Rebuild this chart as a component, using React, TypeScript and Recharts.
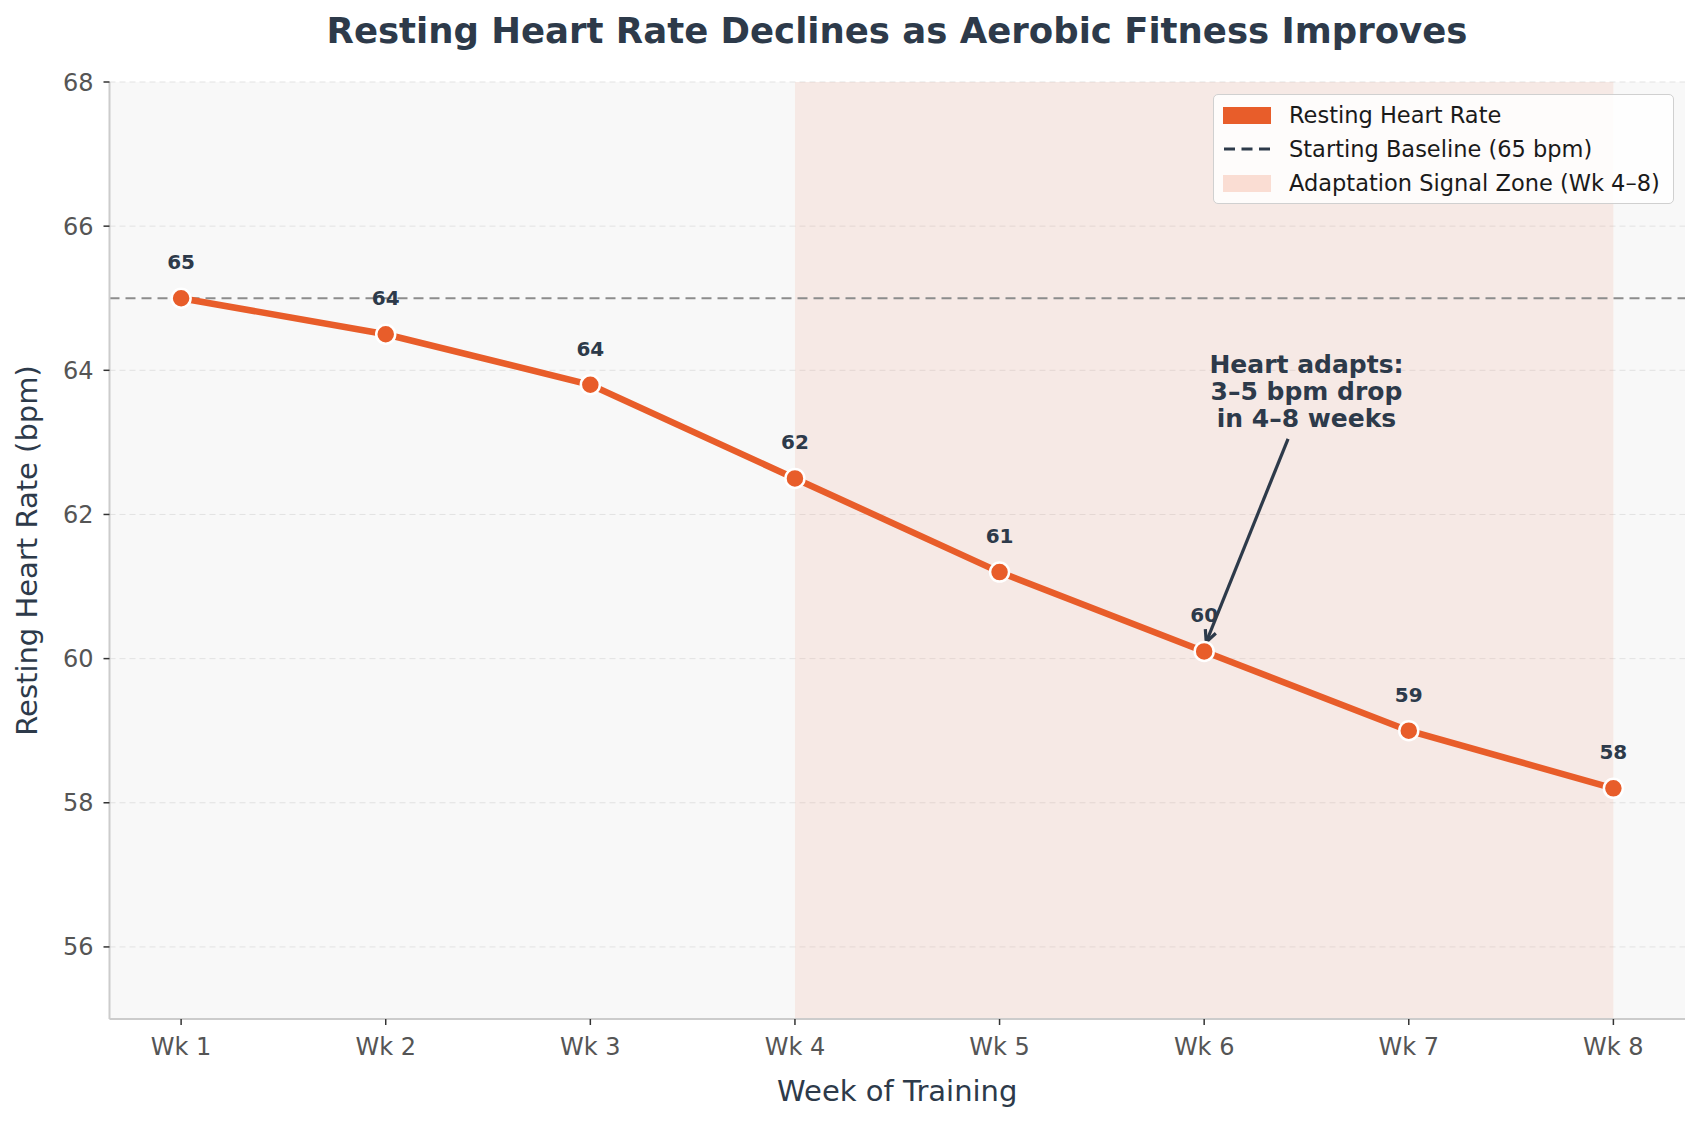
import React from "react";
import {
  ComposedChart,
  Line,
  XAxis,
  YAxis,
  CartesianGrid,
  ReferenceArea,
  ReferenceLine,
  ReferenceDot,
  LabelList,
} from "recharts";

const weeks = [1, 2, 3, 4, 5, 6, 7, 8];
const weekLabels = ["Wk 1", "Wk 2", "Wk 3", "Wk 4", "Wk 5", "Wk 6", "Wk 7", "Wk 8"];
const restingHr = [65, 64.5, 63.8, 62.5, 61.2, 60.1, 59.0, 58.2];
const pointLabels = ["65", "64", "64", "62", "61", "60", "59", "58"];
const yTicks = [56, 58, 60, 62, 64, 66, 68];
const baseline = 65;
const zoneStart = 4;
const zoneEnd = 8;
const annotationLines = ["Heart adapts:", "3\u20135 bpm drop", "in 4\u20138 weeks"];
const annotationText = { x: 6.5, y: 63.7 };
const arrowFrom = { x: 6.41, y: 63.05 };
const arrowTo = { x: 6.01, y: 60.23 };

const data = weeks.map((w, i) => ({ week: w, hr: restingHr[i], label: pointLabels[i] }));

const FONT = "'DejaVu Sans', sans-serif";
const ORANGE = "#E85D2A";
const DARK = "#2D3A4A";
const W = 1699;
const H = 1122;

const PointLabel = (props: any) => {
  const { x, y, index } = props;
  return (
    <text
      x={x}
      y={y - 36}
      textAnchor="middle"
      dominantBaseline="central"
      fontFamily={FONT}
      fontWeight="bold"
      fontSize={20}
      fill={DARK}
    >
      {pointLabels[index]}
    </text>
  );
};

const ArrowShape = (props: any) => {
  const { x1, y1, x2, y2 } = props;
  const ang = Math.atan2(y2 - y1, x2 - x1);
  const len = 13;
  const spread = 0.45;
  const ax = x2 - len * Math.cos(ang - spread);
  const ay = y2 - len * Math.sin(ang - spread);
  const bx = x2 - len * Math.cos(ang + spread);
  const by = y2 - len * Math.sin(ang + spread);
  return (
    <g>
      <line x1={x1} y1={y1} x2={x2} y2={y2} stroke={DARK} strokeWidth={3.2} />
      <polyline
        points={`${ax},${ay} ${x2},${y2} ${bx},${by}`}
        fill="none"
        stroke={DARK}
        strokeWidth={3.2}
      />
    </g>
  );
};

const AnnotationShape = (props: any) => {
  const { cx, cy } = props;
  return (
    <text
      x={cx}
      y={cy}
      textAnchor="middle"
      fontFamily={FONT}
      fontWeight="bold"
      fontSize={25}
      fill={DARK}
    >
      {annotationLines.map((l, i) => (
        <tspan key={i} x={cx} y={cy + (i - 1) * 27} dominantBaseline="central">
          {l}
        </tspan>
      ))}
    </text>
  );
};

const legendItems = [
  { kind: "patch", color: ORANGE, text: "Resting Heart Rate" },
  { kind: "dash", color: DARK, text: "Starting Baseline (65 bpm)" },
  { kind: "patch", color: "#FADDD3", text: "Adaptation Signal Zone (Wk 4\u20138)" },
];

export default function App() {
  return (
    <div
      style={{
        position: "absolute",
        left: 0,
        top: 0,
        width: W,
        height: H,
        background: "#ffffff",
        fontFamily: FONT,
      }}
    >
      <div
        style={{
          position: "absolute",
          left: 109,
          width: 1685 - 109,
          top: 10,
          textAlign: "center",
          fontSize: 35.5,
          fontWeight: "bold",
          color: DARK,
          lineHeight: "42px",
        }}
      >
        Resting Heart Rate Declines as Aerobic Fitness Improves
      </div>
      <ComposedChart
        width={W}
        height={H}
        data={data}
        margin={{ top: 82, right: 14, bottom: 0, left: 0 }}
      >
        <CartesianGrid
          horizontal
          vertical={false}
          stroke="#e2e2e2"
          strokeDasharray="6 4"
          fill="#F8F8F8"
        />
        <ReferenceArea
          x1={zoneStart}
          x2={zoneEnd}
          fill="#F08060"
          fillOpacity={0.12}
          stroke="none"
          ifOverflow="visible"
        />
        <XAxis
          dataKey="week"
          type="number"
          domain={[0.65, 8.35]}
          ticks={weeks}
          tickFormatter={(v: number) => weekLabels[v - 1]}
          allowDataOverflow
          height={103}
          stroke="#cccccc"
          strokeWidth={2}
          tickLine={{ stroke: "#333333", strokeWidth: 1.5 }}
          tickSize={6}
          tickMargin={13}
          tick={{ fill: "#555555", fontSize: 24, fontFamily: FONT }}
          label={{
            value: "Week of Training",
            position: "insideBottom",
            offset: 21,
            fill: DARK,
            fontSize: 29,
            fontFamily: FONT,
          }}
        />
        <YAxis
          type="number"
          domain={[55, 68]}
          ticks={yTicks}
          allowDataOverflow
          width={109.5}
          stroke="#cccccc"
          strokeWidth={2}
          tickLine={{ stroke: "#333333", strokeWidth: 1.5 }}
          tickSize={6}
          tickMargin={10}
          tick={{ fill: "#555555", fontSize: 24, fontFamily: FONT }}
          label={{
            value: "Resting Heart Rate (bpm)",
            angle: -90,
            position: "insideLeft",
            offset: 27,
            style: { textAnchor: "middle" },
            fill: DARK,
            fontSize: 29,
            fontFamily: FONT,
          }}
        />
        <ReferenceLine
          y={baseline}
          stroke="#8C8C8C"
          strokeWidth={2.2}
          strokeDasharray="10 6"
        />
        <Line
          type="linear"
          dataKey="hr"
          stroke={ORANGE}
          strokeWidth={6.5}
          isAnimationActive={false}
          dot={{ r: 9.5, fill: ORANGE, stroke: "#ffffff", strokeWidth: 2.5 }}
          activeDot={false}
        >
          <LabelList dataKey="label" content={<PointLabel />} />
        </Line>
        <ReferenceLine
          segment={[arrowFrom, arrowTo]}
          shape={<ArrowShape />}
          ifOverflow="visible"
        />
        <ReferenceDot
          x={annotationText.x}
          y={annotationText.y}
          r={0}
          shape={<AnnotationShape />}
          ifOverflow="visible"
        />
      </ComposedChart>
      <div
        style={{
          position: "absolute",
          left: 1213,
          top: 94,
          width: 461,
          height: 110,
          boxSizing: "border-box",
          border: "1.5px solid #d0d0d0",
          borderRadius: 5,
          background: "rgba(255,255,255,0.85)",
          fontSize: 22.5,
          color: "#1a1a1a",
        }}
      >
        {legendItems.map((it, i) => (
          <div
            key={i}
            style={{
              position: "absolute",
              left: 9,
              top: 5 + i * 34,
              height: 30,
              display: "flex",
              alignItems: "center",
              whiteSpace: "nowrap",
            }}
          >
            <svg width={48} height={20} style={{ marginRight: 18 }}>
              {it.kind === "patch" ? (
                <rect x={0} y={2} width={48} height={17} fill={it.color} />
              ) : (
                <line
                  x1={1}
                  y1={10}
                  x2={47}
                  y2={10}
                  stroke={it.color}
                  strokeWidth={3}
                  strokeDasharray="11 6.5"
                />
              )}
            </svg>
            <span>{it.text}</span>
          </div>
        ))}
      </div>
    </div>
  );
}
